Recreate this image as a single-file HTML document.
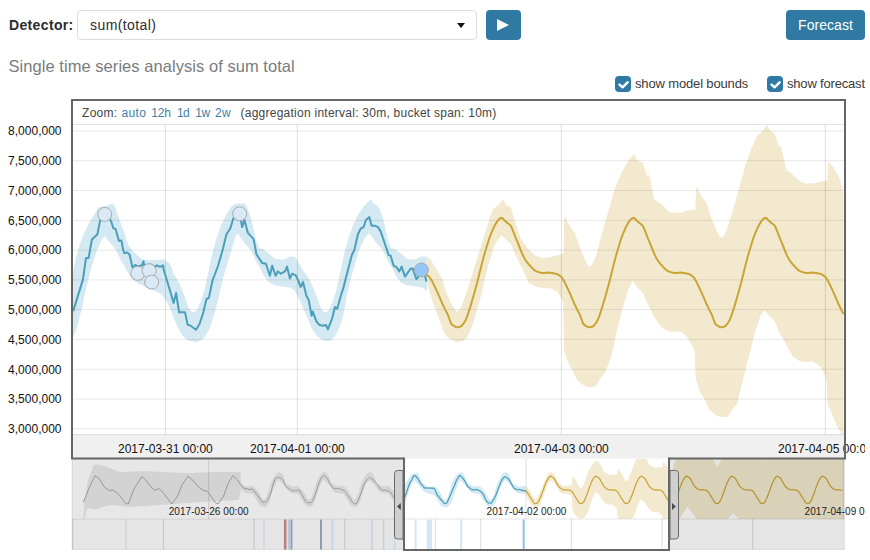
<!DOCTYPE html>
<html><head><meta charset="utf-8"><title>Single Metric Viewer</title>
<style>
html,body{margin:0;padding:0;background:#fff;}
body{width:870px;height:560px;overflow:hidden;position:relative;font-family:"Liberation Sans",sans-serif;color:#2d2d2d;}
.abs{position:absolute;white-space:nowrap;}
#lbl{left:9px;top:16px;font-size:14px;font-weight:bold;line-height:18px;letter-spacing:0.35px;color:#2d2d2d;}
#sel{left:77px;top:10px;width:398px;height:28px;border:1px solid #dcdcdc;border-radius:4px;background:#fff;}
#selt{left:90px;top:16px;font-size:14px;line-height:18px;letter-spacing:0.42px;color:#2d2d2d;}
#arrow{left:457px;top:23px;width:0;height:0;border-left:4.5px solid transparent;border-right:4.5px solid transparent;border-top:5px solid #111;}
.btn{background:#2f79a3;border-radius:4px;color:#fff;}
#play{left:486px;top:10px;width:35px;height:30px;}
#fc{left:786px;top:10px;width:79px;height:30px;font-size:14px;line-height:30px;text-align:center;letter-spacing:0.05px;}
#h{left:8.5px;top:55px;font-size:16.5px;line-height:22px;color:#787c7e;letter-spacing:0.05px;}
.cb{width:16px;height:16px;border-radius:4px;background:#2f79a3;}
.cbt{font-size:13px;line-height:16px;color:#3a3a3a;top:76px;}
svg text{font-family:"Liberation Sans",sans-serif;}
</style></head><body>
<div class="abs" id="lbl">Detector:</div>
<div class="abs" id="sel"></div>
<div class="abs" id="selt">sum(total)</div>
<div class="abs" id="arrow"></div>
<div class="abs btn" id="play"><svg width="35" height="30" style="display:block"><path d="M11,9 L11,21 L23,15 Z" fill="#fff"/></svg></div>
<div class="abs btn" id="fc">Forecast</div>
<div class="abs" id="h">Single time series analysis of sum total</div>
<div class="abs cb" style="left:615px;top:76px"><svg width="16" height="16" style="display:block"><path d="M4.6,8.6 L7.5,11.3 L12.6,6.3" fill="none" stroke="#fff" stroke-width="2.5" stroke-linecap="round" stroke-linejoin="round"/></svg></div>
<div class="abs cbt" id="t1" style="left:635px;letter-spacing:-0.15px">show model bounds</div>
<div class="abs cb" style="left:767px;top:76px"><svg width="16" height="16" style="display:block"><path d="M4.6,8.6 L7.5,11.3 L12.6,6.3" fill="none" stroke="#fff" stroke-width="2.5" stroke-linecap="round" stroke-linejoin="round"/></svg></div>
<div class="abs cbt" id="t2" style="left:787px;letter-spacing:-0.18px">show forecast</div>

<svg class="abs" style="left:0;top:0" width="865" height="560" viewBox="0 0 865 560">
<defs>
<clipPath id="cm"><rect x="73" y="125" width="771" height="309.5"/></clipPath>
<clipPath id="cc"><rect x="72.0" y="459.0" width="773.0" height="60.0"/></clipPath>
<clipPath id="cl"><rect x="72.0" y="459.0" width="332.0" height="60.0"/></clipPath>
</defs>
<text x="61.5" y="135.2" font-size="12" text-anchor="end" fill="#111">8,000,000</text>
<text x="61.5" y="165.0" font-size="12" text-anchor="end" fill="#111">7,500,000</text>
<text x="61.5" y="194.8" font-size="12" text-anchor="end" fill="#111">7,000,000</text>
<text x="61.5" y="224.6" font-size="12" text-anchor="end" fill="#111">6,500,000</text>
<text x="61.5" y="254.4" font-size="12" text-anchor="end" fill="#111">6,000,000</text>
<text x="61.5" y="284.2" font-size="12" text-anchor="end" fill="#111">5,500,000</text>
<text x="61.5" y="313.9" font-size="12" text-anchor="end" fill="#111">5,000,000</text>
<text x="61.5" y="343.7" font-size="12" text-anchor="end" fill="#111">4,500,000</text>
<text x="61.5" y="373.5" font-size="12" text-anchor="end" fill="#111">4,000,000</text>
<text x="61.5" y="403.3" font-size="12" text-anchor="end" fill="#111">3,500,000</text>
<text x="61.5" y="433.1" font-size="12" text-anchor="end" fill="#111">3,000,000</text>
<rect x="73" y="124" width="771" height="1" fill="#e3e3e3"/>
<rect x="73" y="434.5" width="771" height="24" fill="#f0f0f0"/>
<rect x="73" y="434" width="771" height="1" fill="#dedede"/>
<g clip-path="url(#cm)">
<path d="M73.0,272.4 L74.5,265.3 L76.0,258.1 L77.5,251.7 L79.0,247.3 L80.5,242.8 L82.0,238.4 L83.5,234.5 L85.0,231.5 L86.5,228.5 L88.0,225.5 L89.5,222.7 L91.0,220.1 L92.5,217.5 L94.0,214.8 L95.5,212.3 L97.0,209.8 L98.5,207.3 L100.0,206.9 L101.5,206.6 L103.0,206.4 L104.5,206.1 L106.0,205.9 L107.5,205.5 L109.0,204.8 L110.5,204.1 L112.0,203.3 L113.5,204.0 L115.0,206.9 L116.5,211.2 L118.0,215.6 L119.5,219.9 L121.0,224.1 L122.5,228.1 L124.0,232.1 L125.5,236.5 L127.0,240.9 L128.5,245.4 L130.0,247.5 L131.5,249.4 L133.0,251.3 L134.5,253.1 L136.0,254.3 L137.5,255.5 L139.0,256.8 L140.5,258.0 L142.0,259.3 L143.5,260.0 L145.0,260.0 L146.5,260.0 L148.0,260.0 L149.5,260.0 L151.0,260.0 L152.5,260.0 L154.0,259.9 L155.5,259.9 L157.0,259.8 L158.5,259.7 L160.0,259.6 L161.5,259.6 L163.0,259.6 L164.5,259.6 L166.0,260.6 L167.5,261.9 L169.0,263.1 L170.5,265.2 L172.0,268.0 L173.5,273.9 L175.0,275.7 L176.5,278.0 L178.0,281.0 L179.5,284.1 L181.0,287.4 L182.5,290.9 L184.0,294.5 L185.5,298.5 L187.0,302.9 L188.5,307.2 L190.0,309.4 L191.5,311.5 L193.0,312.3 L194.5,312.5 L196.0,311.1 L197.5,309.3 L199.0,305.6 L200.5,301.9 L202.0,297.5 L203.5,293.0 L205.0,287.5 L206.5,280.8 L208.0,274.0 L209.5,266.6 L211.0,259.2 L212.5,252.6 L214.0,247.3 L215.5,241.9 L217.0,236.6 L218.5,232.5 L220.0,228.4 L221.5,224.2 L223.0,221.0 L224.5,218.0 L226.0,215.0 L227.5,212.4 L229.0,210.0 L230.5,207.8 L232.0,205.7 L233.5,204.7 L235.0,204.2 L236.5,203.7 L238.0,203.5 L239.5,203.5 L241.0,203.5 L242.5,203.5 L244.0,203.5 L245.5,203.5 L247.0,207.7 L248.5,211.5 L250.0,215.0 L251.5,220.6 L253.0,226.5 L254.5,233.5 L256.0,240.6 L257.5,244.3 L259.0,247.8 L260.5,248.4 L262.0,248.7 L263.5,249.4 L265.0,250.6 L266.5,251.8 L268.0,253.0 L269.5,254.3 L271.0,255.6 L272.5,256.8 L274.0,258.1 L275.5,258.9 L277.0,259.1 L278.5,259.2 L280.0,259.4 L281.5,259.6 L283.0,259.6 L284.5,258.9 L286.0,258.2 L287.5,257.5 L289.0,256.8 L290.5,256.4 L292.0,256.6 L293.5,256.8 L295.0,257.0 L296.5,259.1 L298.0,261.8 L299.5,264.5 L301.0,267.1 L302.5,269.8 L304.0,272.1 L305.5,273.9 L307.0,275.7 L308.5,278.0 L310.0,281.0 L311.5,284.1 L313.0,287.4 L314.5,290.9 L316.0,294.5 L317.5,298.5 L319.0,302.9 L320.5,307.2 L322.0,309.4 L323.5,311.5 L325.0,312.3 L326.5,312.5 L328.0,311.1 L329.5,309.3 L331.0,305.6 L332.5,301.9 L334.0,297.5 L335.5,293.0 L337.0,287.5 L338.5,280.8 L340.0,274.0 L341.5,266.6 L343.0,259.2 L344.5,252.6 L346.0,247.3 L347.5,241.9 L349.0,236.6 L350.5,232.5 L352.0,228.4 L353.5,224.2 L355.0,221.0 L356.5,218.0 L358.0,215.0 L359.5,212.5 L361.0,210.4 L362.5,208.2 L364.0,206.3 L365.5,204.8 L367.0,203.3 L368.5,201.5 L370.0,199.5 L371.5,200.5 L373.0,203.1 L374.5,204.1 L376.0,204.6 L377.5,206.3 L379.0,208.3 L380.5,211.5 L382.0,215.0 L383.5,220.6 L385.0,226.5 L386.5,233.5 L388.0,240.6 L389.5,244.3 L391.0,247.8 L392.5,248.4 L394.0,248.7 L395.5,249.4 L397.0,250.6 L398.5,251.8 L400.0,253.0 L401.5,254.3 L403.0,255.6 L404.5,256.8 L406.0,258.1 L407.5,258.9 L409.0,259.1 L410.5,259.2 L412.0,259.4 L413.5,259.6 L415.0,259.6 L416.5,258.9 L418.0,258.2 L419.5,257.5 L421.0,256.8 L422.5,256.4 L424.0,256.6 L425.5,256.8 L427.0,257.0 L427.0,257.0 L427.0,291.1 L427.0,291.1 L425.5,289.6 L424.0,288.7 L422.5,287.8 L421.0,287.4 L419.5,287.1 L418.0,286.9 L416.5,286.7 L415.0,286.5 L413.5,286.3 L412.0,286.1 L410.5,285.8 L409.0,285.6 L407.5,285.4 L406.0,284.9 L404.5,284.1 L403.0,283.4 L401.5,282.6 L400.0,281.2 L398.5,279.4 L397.0,277.6 L395.5,275.3 L394.0,271.9 L392.5,268.5 L391.0,266.0 L389.5,263.8 L388.0,261.5 L386.5,258.1 L385.0,254.7 L383.5,251.8 L382.0,249.6 L380.5,247.3 L379.0,245.7 L377.5,244.2 L376.0,242.7 L374.5,240.6 L373.0,238.2 L371.5,236.1 L370.0,234.3 L368.5,233.9 L367.0,235.5 L365.5,237.1 L364.0,239.4 L362.5,242.6 L361.0,245.9 L359.5,249.2 L358.0,254.1 L356.5,258.9 L355.0,263.7 L353.5,269.0 L352.0,274.4 L350.5,279.8 L349.0,285.9 L347.5,292.7 L346.0,299.5 L344.5,308.7 L343.0,316.2 L341.5,321.0 L340.0,325.7 L338.5,329.7 L337.0,332.3 L335.5,335.0 L334.0,337.2 L332.5,338.6 L331.0,340.0 L329.5,340.8 L328.0,340.9 L326.5,341.0 L325.0,340.8 L323.5,340.2 L322.0,339.6 L320.5,338.7 L319.0,337.5 L317.5,336.3 L316.0,334.6 L314.5,332.5 L313.0,330.5 L311.5,327.6 L310.0,323.9 L308.5,320.3 L307.0,316.8 L305.5,313.5 L304.0,310.2 L302.5,306.8 L301.0,303.2 L299.5,299.6 L298.0,296.6 L296.5,293.8 L295.0,291.1 L293.5,289.6 L292.0,288.7 L290.5,287.8 L289.0,287.4 L287.5,287.1 L286.0,286.9 L284.5,286.7 L283.0,286.5 L281.5,286.3 L280.0,286.1 L278.5,285.8 L277.0,285.6 L275.5,285.4 L274.0,284.9 L272.5,284.1 L271.0,283.4 L269.5,282.6 L268.0,281.2 L266.5,279.4 L265.0,277.6 L263.5,275.3 L262.0,271.9 L260.5,268.5 L259.0,266.0 L257.5,263.8 L256.0,261.5 L254.5,258.1 L253.0,254.7 L251.5,251.8 L250.0,249.6 L248.5,247.3 L247.0,245.7 L245.5,244.2 L244.0,242.7 L242.5,240.6 L241.0,238.2 L239.5,236.1 L238.0,234.3 L236.5,234.7 L235.0,238.5 L233.5,243.2 L232.0,248.0 L230.5,253.1 L229.0,258.2 L227.5,263.3 L226.0,268.3 L224.5,273.3 L223.0,278.3 L221.5,284.5 L220.0,291.0 L218.5,297.5 L217.0,303.9 L215.5,309.4 L214.0,314.7 L212.5,319.8 L211.0,324.2 L209.5,328.6 L208.0,331.7 L206.5,334.0 L205.0,336.2 L203.5,338.5 L202.0,339.7 L200.5,340.4 L199.0,341.1 L197.5,341.7 L196.0,342.0 L194.5,342.0 L193.0,341.6 L191.5,341.3 L190.0,340.9 L188.5,340.5 L187.0,339.9 L185.5,338.4 L184.0,336.9 L182.5,335.4 L181.0,333.5 L179.5,330.5 L178.0,327.5 L176.5,324.5 L175.0,321.2 L173.5,317.2 L172.0,313.2 L170.5,309.2 L169.0,305.8 L167.5,303.2 L166.0,300.7 L164.5,298.2 L163.0,295.9 L161.5,293.9 L160.0,293.2 L158.5,292.6 L157.0,292.0 L155.5,291.3 L154.0,290.7 L152.5,290.1 L151.0,289.4 L149.5,288.8 L148.0,288.1 L146.5,287.4 L145.0,286.7 L143.5,286.0 L142.0,285.3 L140.5,284.6 L139.0,283.9 L137.5,282.9 L136.0,281.9 L134.5,280.8 L133.0,279.7 L131.5,278.7 L130.0,276.1 L128.5,273.5 L127.0,270.9 L125.5,268.2 L124.0,265.6 L122.5,263.0 L121.0,260.4 L119.5,257.6 L118.0,254.6 L116.5,251.5 L115.0,248.5 L113.5,246.3 L112.0,244.9 L110.5,243.4 L109.0,241.5 L107.5,239.4 L106.0,237.3 L104.5,236.2 L103.0,238.0 L101.5,239.9 L100.0,243.3 L98.5,246.7 L97.0,250.3 L95.5,254.8 L94.0,259.3 L92.5,263.8 L91.0,268.7 L89.5,274.7 L88.0,280.8 L86.5,286.8 L85.0,293.3 L83.5,300.2 L82.0,307.2 L80.5,313.6 L79.0,319.5 L77.5,325.5 L76.0,329.7 L74.5,333.3 L73.0,336.9Z" fill="#a9d3e3" fill-opacity="0.5"/>
<path d="M427.3,257.0 L430.3,258.7 L434.1,265.7 L438.5,272.5 L442.1,278.5 L444.6,287.0 L447.5,295.0 L451.4,303.8 L456.3,311.8 L459.5,310.2 L464.3,299.0 L470.7,279.6 L477.0,258.8 L483.6,237.9 L490.0,217.0 L493.2,209.0 L499.6,204.0 L502.9,199.3 L506.0,205.0 L510.9,207.3 L514.0,218.6 L520.5,237.9 L527.0,247.5 L535.0,255.5 L543.0,258.0 L551.0,257.0 L561.4,254.3 L563.6,252.9 L564.3,215.7 L568.6,224.3 L575.0,233.4 L578.6,244.3 L584.3,258.6 L588.6,266.6 L591.4,265.7 L595.7,257.0 L601.4,235.7 L607.0,215.7 L614.3,190.0 L621.4,172.9 L627.0,162.9 L631.4,157.0 L634.3,154.3 L637.0,160.0 L642.9,162.9 L647.0,175.7 L649.4,175.0 L654.3,200.0 L657.0,200.9 L662.9,205.7 L668.6,211.4 L674.3,212.9 L677.0,212.0 L680.0,212.9 L687.0,210.6 L692.9,210.0 L695.3,209.4 L696.3,186.6 L701.4,195.7 L707.0,204.3 L711.4,218.6 L715.7,228.6 L718.6,235.0 L721.4,237.7 L724.3,235.7 L728.6,224.3 L732.9,210.0 L738.6,190.0 L745.7,164.3 L751.4,148.6 L757.0,136.3 L762.9,130.6 L766.6,124.9 L770.0,130.6 L774.3,132.9 L778.6,145.7 L780.9,146.3 L786.6,170.6 L789.4,171.4 L794.3,176.3 L800.0,181.4 L805.7,183.7 L810.0,183.0 L812.9,183.7 L818.6,182.0 L824.3,180.9 L827.3,180.6 L828.3,160.9 L832.9,167.0 L838.6,176.3 L841.4,184.3 L843.5,194.0 L843.5,440.0 L841.3,433.6 L837.4,426.9 L831.5,413.0 L827.6,403.3 L826.6,379.7 L823.6,371.9 L819.7,366.0 L811.9,361.2 L806.0,362.0 L800.0,361.2 L792.2,356.0 L786.3,344.3 L780.4,334.5 L774.5,320.8 L768.6,314.9 L764.7,310.0 L760.8,314.9 L754.9,332.5 L749.0,356.0 L743.0,379.7 L737.2,403.3 L731.3,411.0 L728.0,416.7 L721.4,417.0 L715.6,415.0 L709.7,410.4 L705.7,401.4 L700.0,391.4 L695.7,378.6 L694.5,350.0 L691.4,344.3 L687.0,337.0 L681.4,332.0 L674.3,331.4 L671.4,332.3 L665.7,330.0 L660.0,325.7 L654.3,317.0 L648.6,305.7 L642.9,292.9 L637.0,287.0 L632.9,280.9 L628.6,288.6 L622.9,307.0 L617.0,330.0 L611.4,355.7 L605.7,371.4 L601.4,377.0 L597.0,384.3 L594.3,387.0 L587.0,387.0 L581.4,383.7 L577.0,380.0 L572.9,371.4 L567.0,360.0 L564.0,350.0 L563.2,302.9 L561.4,298.6 L557.0,291.4 L551.0,288.6 L541.4,287.7 L535.0,286.0 L528.6,282.9 L523.8,271.6 L517.3,258.8 L510.9,244.3 L506.0,239.5 L501.3,235.3 L494.8,244.3 L488.4,264.5 L482.5,289.0 L479.3,302.0 L473.9,320.5 L470.4,330.5 L466.8,338.0 L463.2,341.0 L457.9,342.2 L452.5,340.5 L447.1,337.0 L443.6,331.0 L438.2,316.5 L432.9,302.5 L427.3,284.0Z" fill="#e7d39f" fill-opacity="0.5"/>
</g>
<rect x="73" y="130.4" width="771" height="1" fill="#000" fill-opacity="0.095"/>
<rect x="73" y="160.2" width="771" height="1" fill="#000" fill-opacity="0.095"/>
<rect x="73" y="190.0" width="771" height="1" fill="#000" fill-opacity="0.095"/>
<rect x="73" y="219.8" width="771" height="1" fill="#000" fill-opacity="0.095"/>
<rect x="73" y="249.6" width="771" height="1" fill="#000" fill-opacity="0.095"/>
<rect x="73" y="279.4" width="771" height="1" fill="#000" fill-opacity="0.095"/>
<rect x="73" y="309.1" width="771" height="1" fill="#000" fill-opacity="0.095"/>
<rect x="73" y="338.9" width="771" height="1" fill="#000" fill-opacity="0.095"/>
<rect x="73" y="368.7" width="771" height="1" fill="#000" fill-opacity="0.095"/>
<rect x="73" y="398.5" width="771" height="1" fill="#000" fill-opacity="0.095"/>
<rect x="73" y="428.3" width="771" height="1" fill="#000" fill-opacity="0.095"/>
<rect x="164.9" y="125" width="1" height="309.5" fill="#000" fill-opacity="0.13"/>
<rect x="296.9" y="125" width="1" height="309.5" fill="#000" fill-opacity="0.13"/>
<rect x="560.9" y="125" width="1" height="309.5" fill="#000" fill-opacity="0.13"/>
<rect x="824.9" y="125" width="1" height="309.5" fill="#000" fill-opacity="0.13"/>
<g clip-path="url(#cm)">
<path d="M73.2,311.1 L82.9,279.6 L86.0,258.0 L88.6,258.0 L91.9,239.5 L97.3,234.6 L101.2,215.4 L104.7,214.4 L108.0,216.0 L111.0,221.0 L113.4,228.2 L115.6,228.9 L118.9,241.0 L121.4,240.4 L123.2,250.0 L124.4,253.2 L127.2,252.4 L129.6,254.8 L132.4,267.3 L135.3,264.9 L138.0,266.5 L142.0,265.3 L143.5,261.2 L144.1,265.3 L147.0,266.8 L151.0,264.5 L155.3,266.9 L156.9,265.3 L160.2,266.9 L163.0,265.3 L163.8,270.0 L165.7,276.3 L173.6,302.9 L176.1,293.0 L179.1,312.3 L185.0,312.3 L187.7,324.9 L190.3,325.5 L196.0,329.8 L199.5,324.0 L203.0,313.5 L206.5,299.0 L208.9,297.8 L212.5,280.5 L218.0,266.0 L222.9,249.0 L226.4,234.4 L230.3,228.5 L233.2,218.7 L236.0,214.5 L239.7,213.7 L240.1,215.7 L242.1,227.1 L244.4,220.0 L247.9,232.9 L253.6,239.1 L256.4,254.3 L262.1,262.9 L265.9,263.7 L269.9,275.7 L272.1,265.7 L275.6,275.7 L277.9,271.4 L280.7,273.7 L285.0,271.4 L287.0,266.6 L289.9,278.6 L292.1,273.7 L295.6,275.1 L298.4,280.9 L300.7,287.1 L303.0,282.0 L306.4,295.7 L308.7,300.0 L311.6,315.7 L312.7,311.4 L316.4,321.4 L319.3,324.9 L323.6,325.7 L325.9,324.9 L327.9,329.4 L332.1,318.6 L335.0,307.1 L337.3,308.6 L341.3,294.3 L343.6,287.1 L347.9,270.0 L352.1,254.3 L354.4,250.0 L357.9,234.3 L360.7,228.6 L363.6,227.1 L365.9,220.0 L369.3,217.1 L371.6,225.7 L375.0,225.7 L377.9,227.1 L380.7,231.4 L385.0,244.3 L388.7,255.1 L390.7,255.7 L393.6,265.7 L396.4,267.1 L399.3,271.4 L401.6,266.6 L405.0,276.6 L408.7,271.4 L410.7,268.6 L412.7,268.6 L416.4,279.1 L419.3,275.7 L421.3,270.6 L425.0,275.7 L426.4,281.4" fill="none" stroke="#4a9fba" stroke-width="2" stroke-linejoin="round"/>
<path d="M425.7,274.3 L427.2,275.3 L428.7,276.4 L430.2,277.9 L431.7,280.5 L433.2,283.4 L434.7,286.5 L436.2,289.7 L437.7,292.9 L439.2,296.4 L440.7,299.9 L442.2,303.3 L443.7,306.5 L445.2,309.6 L446.7,312.5 L448.2,315.6 L449.7,319.8 L451.2,323.8 L452.7,325.2 L454.2,326.1 L455.7,326.9 L457.2,327.2 L458.7,327.1 L460.2,326.7 L461.7,325.8 L463.2,324.0 L464.7,321.8 L466.2,319.0 L467.7,314.9 L469.2,310.3 L470.7,305.4 L472.2,300.4 L473.7,295.2 L475.2,289.8 L476.7,284.4 L478.2,278.6 L479.7,272.6 L481.2,266.5 L482.7,260.6 L484.2,255.0 L485.7,250.0 L487.2,245.0 L488.7,240.3 L490.2,235.8 L491.7,232.2 L493.2,228.9 L494.7,225.7 L496.2,222.8 L497.7,220.7 L499.2,219.1 L500.7,217.9 L502.2,218.1 L503.7,219.5 L505.2,221.0 L506.7,222.4 L508.2,223.5 L509.7,224.7 L511.2,226.6 L512.7,230.0 L514.2,233.8 L515.7,237.9 L517.2,241.3 L518.7,245.0 L520.2,248.8 L521.7,252.5 L523.2,255.9 L524.7,258.8 L526.2,261.1 L527.7,263.0 L529.2,264.8 L530.7,266.4 L532.2,268.0 L533.7,269.4 L535.2,270.7 L536.7,271.4 L538.2,272.0 L539.7,272.4 L541.2,272.8 L542.7,272.9 L544.2,272.9 L545.7,272.8 L547.2,272.7 L548.7,272.6 L550.2,272.7 L551.7,272.9 L553.2,273.2 L554.7,273.5 L556.2,273.9 L557.7,274.3 L559.2,275.3 L560.7,276.4 L562.2,277.9 L563.7,280.5 L565.2,283.4 L566.7,286.5 L568.2,289.7 L569.7,292.9 L571.2,296.4 L572.7,299.9 L574.2,303.3 L575.7,306.5 L577.2,309.6 L578.7,312.5 L580.2,315.6 L581.7,319.8 L583.2,323.8 L584.7,325.2 L586.2,326.1 L587.7,326.9 L589.2,327.2 L590.7,327.1 L592.2,326.7 L593.7,325.8 L595.2,324.0 L596.7,321.8 L598.2,319.0 L599.7,314.9 L601.2,310.3 L602.7,305.4 L604.2,300.4 L605.7,295.2 L607.2,289.8 L608.7,284.4 L610.2,278.6 L611.7,272.6 L613.2,266.5 L614.7,260.6 L616.2,255.0 L617.7,250.0 L619.2,245.0 L620.7,240.3 L622.2,235.8 L623.7,232.2 L625.2,228.8 L626.7,225.7 L628.2,222.8 L629.7,220.7 L631.2,219.1 L632.7,217.9 L634.2,218.1 L635.7,219.5 L637.2,221.0 L638.7,222.4 L640.2,223.5 L641.7,224.7 L643.2,226.6 L644.7,230.0 L646.2,233.8 L647.7,237.9 L649.2,241.3 L650.7,245.0 L652.2,248.8 L653.7,252.5 L655.2,255.9 L656.7,258.8 L658.2,261.1 L659.7,263.0 L661.2,264.8 L662.7,266.4 L664.2,268.0 L665.7,269.4 L667.2,270.7 L668.7,271.4 L670.2,272.0 L671.7,272.4 L673.2,272.8 L674.7,272.9 L676.2,272.9 L677.7,272.8 L679.2,272.7 L680.7,272.6 L682.2,272.7 L683.7,272.9 L685.2,273.2 L686.7,273.5 L688.2,273.9 L689.7,274.3 L691.2,275.3 L692.7,276.4 L694.2,277.9 L695.7,280.5 L697.2,283.4 L698.7,286.5 L700.2,289.7 L701.7,292.9 L703.2,296.4 L704.7,299.9 L706.2,303.3 L707.7,306.5 L709.2,309.6 L710.7,312.5 L712.2,315.6 L713.7,319.8 L715.2,323.8 L716.7,325.2 L718.2,326.1 L719.7,326.9 L721.2,327.2 L722.7,327.1 L724.2,326.7 L725.7,325.8 L727.2,324.0 L728.7,321.8 L730.2,319.0 L731.7,314.9 L733.2,310.3 L734.7,305.4 L736.2,300.4 L737.7,295.2 L739.2,289.8 L740.7,284.4 L742.2,278.6 L743.7,272.6 L745.2,266.5 L746.7,260.6 L748.2,255.0 L749.7,250.0 L751.2,245.0 L752.7,240.3 L754.2,235.8 L755.7,232.2 L757.2,228.8 L758.7,225.7 L760.2,222.8 L761.7,220.7 L763.2,219.1 L764.7,217.9 L766.2,218.1 L767.7,219.5 L769.2,221.0 L770.7,222.4 L772.2,223.5 L773.7,224.7 L775.2,226.6 L776.7,230.0 L778.2,233.8 L779.7,237.9 L781.2,241.3 L782.7,245.0 L784.2,248.8 L785.7,252.5 L787.2,255.9 L788.7,258.8 L790.2,261.1 L791.7,263.0 L793.2,264.8 L794.7,266.4 L796.2,268.0 L797.7,269.4 L799.2,270.7 L800.7,271.4 L802.2,272.0 L803.7,272.4 L805.2,272.8 L806.7,272.9 L808.2,272.9 L809.7,272.8 L811.2,272.7 L812.7,272.6 L814.2,272.7 L815.7,272.9 L817.2,273.2 L818.7,273.5 L820.2,273.9 L821.7,274.3 L823.2,275.3 L824.7,276.4 L826.2,277.9 L827.7,280.5 L829.2,283.4 L830.7,286.5 L832.2,289.7 L833.7,292.9 L835.2,296.4 L836.7,299.9 L838.2,303.3 L839.7,306.5 L841.2,309.6 L842.7,312.5 L843.5,314.0" fill="none" stroke="#c9a535" stroke-width="2" stroke-linejoin="round"/>
<circle cx="104.7" cy="214.4" r="7" fill="#d9e9f6" stroke="#aaa" stroke-width="1"/>
<circle cx="137.8" cy="273.3" r="7" fill="#d9e9f6" stroke="#aaa" stroke-width="1"/>
<circle cx="149.1" cy="270.7" r="7" fill="#d9e9f6" stroke="#aaa" stroke-width="1"/>
<circle cx="151.7" cy="282.1" r="7" fill="#d9e9f6" stroke="#aaa" stroke-width="1"/>
<circle cx="239.7" cy="213.8" r="7" fill="#d9e9f6" stroke="#aaa" stroke-width="1"/>
<circle cx="421.4" cy="270.0" r="7" fill="#94c8f8" stroke="#aaa" stroke-width="1"/>
</g>
<text y="116.6" font-size="12" fill="#444" letter-spacing="0.3"><tspan x="82">Zoom:</tspan><tspan fill="#3c82a8"><tspan x="121.6">auto</tspan><tspan x="151.3" letter-spacing="-0.2">12h</tspan><tspan x="177" letter-spacing="-0.6">1d</tspan><tspan x="195.3" letter-spacing="-0.4">1w</tspan><tspan x="215">2w</tspan></tspan></text>
<text x="240.5" y="116.6" font-size="12" fill="#444" letter-spacing="0.25" id="agg">(aggregation interval: 30m, bucket span: 10m)</text>
<text x="165.4" y="453.3" font-size="12" text-anchor="middle" fill="#111">2017-03-31 00:00</text>
<text x="297.4" y="453.3" font-size="12" text-anchor="middle" fill="#111">2017-04-01 00:00</text>
<text x="561.4" y="453.3" font-size="12" text-anchor="middle" fill="#111">2017-04-03 00:00</text>
<text x="825.4" y="453.3" font-size="12" text-anchor="middle" fill="#111">2017-04-05 00:00</text>
<rect x="72.0" y="459.0" width="773.0" height="90.5" fill="#fff"/>
<g clip-path="url(#cc)">
<path d="M83.4,519.0 L84.5,500.0 L88.0,480.0 L93.7,465.0 L100.0,464.5 L110.0,468.0 L120.0,472.0 L145.0,471.0 L170.0,472.5 L190.0,473.0 L215.0,472.0 L240.5,472.0 L241.0,483.7 L242.0,483.9 L243.0,484.4 L244.0,485.0 L245.0,485.6 L246.0,486.2 L247.0,486.5 L248.0,486.6 L249.0,486.6 L250.0,486.3 L251.0,485.9 L252.0,485.8 L253.0,485.9 L254.0,486.8 L255.0,488.1 L256.0,489.4 L257.0,490.3 L258.0,491.4 L259.0,492.9 L260.0,494.6 L261.0,496.5 L262.0,498.5 L263.0,499.6 L264.0,499.8 L265.0,499.1 L266.0,497.3 L267.0,495.2 L268.0,492.4 L269.0,489.0 L270.0,485.4 L271.0,482.8 L272.0,480.4 L273.0,478.4 L274.0,476.7 L275.0,475.2 L276.0,474.2 L277.0,473.2 L278.0,472.5 L279.0,471.6 L280.0,472.5 L281.0,472.9 L282.0,473.8 L283.0,475.3 L284.0,478.0 L285.0,481.4 L286.0,483.4 L287.0,483.9 L288.0,484.2 L289.0,484.8 L290.0,485.4 L291.0,486.0 L292.0,486.4 L293.0,486.5 L294.0,486.6 L295.0,486.4 L296.0,486.1 L297.0,485.8 L298.0,485.9 L299.0,486.4 L300.0,487.7 L301.0,489.0 L302.0,490.1 L303.0,491.0 L304.0,492.4 L305.0,494.0 L306.0,495.8 L307.0,497.9 L308.0,499.2 L309.0,499.8 L310.0,499.4 L311.0,497.9 L312.0,495.9 L313.0,493.4 L314.0,490.2 L315.0,486.6 L316.0,483.7 L317.0,481.0 L318.0,479.0 L319.0,477.2 L320.0,475.7 L321.0,474.5 L322.0,473.5 L323.0,472.7 L324.0,471.9 L325.0,472.1 L326.0,472.8 L327.0,473.4 L328.0,474.8 L329.0,477.1 L330.0,480.2 L331.0,482.8 L332.0,483.8 L333.0,484.0 L334.0,484.6 L335.0,485.2 L336.0,485.8 L337.0,486.4 L338.0,486.5 L339.0,486.6 L340.0,486.5 L341.0,486.2 L342.0,485.8 L343.0,485.9 L344.0,486.0 L345.0,487.3 L346.0,488.6 L347.0,489.8 L348.0,490.6 L349.0,491.9 L350.0,493.5 L351.0,495.2 L352.0,497.2 L353.0,498.9 L354.0,499.7 L355.0,499.6 L356.0,498.5 L357.0,496.7 L358.0,494.4 L359.0,491.2 L360.0,487.8 L361.0,484.5 L362.0,481.9 L363.0,479.7 L364.0,477.7 L365.0,476.2 L366.0,474.9 L367.0,473.8 L368.0,473.0 L369.0,472.2 L370.0,471.7 L371.0,472.7 L372.0,473.1 L373.0,474.2 L374.0,476.1 L375.0,479.1 L376.0,482.3 L377.0,483.7 L378.0,483.9 L379.0,484.4 L380.0,485.0 L381.0,485.6 L382.0,486.2 L383.0,486.5 L384.0,486.6 L385.0,486.6 L386.0,486.3 L387.0,485.9 L388.0,485.8 L389.0,485.9 L390.0,486.9 L391.0,488.2 L392.0,489.4 L393.0,490.4 L394.0,491.5 L395.0,492.9 L396.0,494.6 L397.0,496.5 L398.0,498.5 L399.0,499.6 L400.0,495.4 L401.0,493.9 L402.0,492.3 L403.0,490.8 L404.0,488.5 L405.0,485.0 L406.0,482.8 L407.0,480.7 L408.0,479.2 L409.0,477.8 L410.0,476.5 L411.0,475.2 L412.0,474.0 L413.0,473.4 L414.0,473.3 L415.0,473.2 L416.0,472.9 L417.0,472.6 L418.0,473.4 L419.0,475.5 L420.0,477.5 L421.0,479.5 L422.0,481.6 L423.0,483.4 L424.0,484.3 L425.0,485.1 L426.0,485.7 L427.0,486.3 L428.0,486.7 L429.0,486.7 L430.0,486.7 L431.0,486.7 L432.0,486.7 L433.0,486.6 L434.0,486.6 L435.0,486.6 L436.0,487.1 L437.0,487.9 L438.0,490.1 L439.0,491.0 L440.0,492.4 L441.0,494.0 L442.0,495.8 L443.0,497.9 L444.0,499.2 L445.0,499.8 L446.0,499.4 L447.0,497.9 L448.0,495.9 L449.0,493.4 L450.0,490.1 L451.0,486.5 L452.0,483.6 L453.0,481.0 L454.0,479.0 L455.0,477.2 L456.0,475.7 L457.0,474.5 L458.0,473.4 L459.0,472.8 L460.0,472.6 L461.0,472.6 L462.0,472.6 L463.0,472.7 L464.0,474.8 L465.0,477.1 L466.0,480.3 L467.0,482.8 L468.0,483.8 L469.0,484.0 L470.0,484.6 L471.0,485.2 L472.0,485.8 L473.0,486.4 L474.0,486.5 L475.0,486.6 L476.0,486.5 L477.0,486.2 L478.0,485.8 L479.0,485.9 L480.0,486.0 L481.0,487.3 L482.0,488.6 L483.0,489.8 L484.0,490.7 L485.0,492.0 L486.0,493.5 L487.0,495.2 L488.0,497.2 L489.0,498.9 L490.0,499.7 L491.0,499.6 L492.0,498.5 L493.0,496.6 L494.0,494.4 L495.0,491.2 L496.0,487.7 L497.0,484.5 L498.0,481.9 L499.0,479.7 L500.0,477.7 L501.0,476.2 L502.0,474.8 L503.0,473.8 L504.0,473.0 L505.0,472.2 L506.0,471.7 L507.0,472.7 L508.0,473.1 L509.0,474.2 L510.0,476.2 L511.0,479.1 L512.0,482.3 L513.0,483.7 L514.0,483.9 L515.0,484.4 L516.0,485.0 L517.0,485.6 L518.0,486.3 L519.0,486.5 L520.0,486.6 L521.0,486.6 L522.0,486.3 L523.0,485.9 L524.0,485.8 L525.0,485.9 L525.0,494.2 L524.0,493.8 L523.0,493.5 L522.0,493.4 L521.0,493.3 L520.0,493.2 L519.0,493.1 L518.0,492.9 L517.0,492.6 L516.0,492.1 L515.0,491.2 L514.0,489.9 L513.0,488.4 L512.0,487.3 L511.0,485.8 L510.0,484.4 L509.0,483.4 L508.0,482.6 L507.0,481.7 L506.0,480.6 L505.0,480.3 L504.0,481.0 L503.0,482.4 L502.0,484.0 L501.0,486.4 L500.0,488.8 L499.0,491.4 L498.0,494.5 L497.0,498.2 L496.0,501.5 L495.0,503.8 L494.0,505.1 L493.0,506.1 L492.0,506.8 L491.0,506.9 L490.0,506.8 L489.0,506.5 L488.0,506.0 L487.0,505.3 L486.0,504.3 L485.0,502.6 L484.0,500.9 L483.0,499.3 L482.0,497.6 L481.0,496.0 L480.0,494.7 L479.0,493.9 L478.0,493.6 L477.0,493.5 L476.0,493.3 L475.0,493.2 L474.0,493.1 L473.0,493.0 L472.0,492.7 L471.0,492.3 L470.0,491.5 L469.0,490.5 L468.0,488.8 L467.0,487.7 L466.0,486.3 L465.0,484.8 L464.0,483.7 L463.0,482.9 L462.0,482.1 L461.0,480.9 L460.0,480.0 L459.0,481.9 L458.0,484.3 L457.0,486.7 L456.0,489.2 L455.0,491.6 L454.0,494.8 L453.0,497.9 L452.0,500.5 L451.0,502.8 L450.0,504.6 L449.0,505.7 L448.0,506.6 L447.0,506.9 L446.0,507.2 L445.0,507.1 L444.0,506.9 L443.0,506.7 L442.0,506.1 L441.0,505.4 L440.0,504.0 L439.0,502.6 L438.0,500.7 L437.0,498.8 L436.0,497.4 L435.0,496.2 L434.0,495.2 L433.0,494.9 L432.0,494.5 L431.0,494.2 L430.0,493.9 L429.0,493.6 L428.0,493.2 L427.0,492.9 L426.0,492.5 L425.0,492.0 L424.0,491.5 L423.0,490.5 L422.0,489.2 L421.0,487.9 L420.0,486.7 L419.0,485.2 L418.0,483.8 L417.0,482.9 L416.0,482.1 L415.0,481.1 L414.0,481.2 L413.0,482.3 L412.0,484.0 L411.0,486.2 L410.0,488.3 L409.0,491.2 L408.0,494.1 L407.0,497.5 L406.0,500.6 L405.0,503.5 L404.0,505.2 L403.0,506.2 L402.0,506.7 L401.0,507.1 L400.0,507.5 L399.0,506.7 L398.0,506.4 L397.0,505.8 L396.0,504.9 L395.0,503.8 L394.0,502.0 L393.0,500.4 L392.0,498.8 L391.0,497.0 L390.0,495.5 L389.0,494.2 L388.0,493.8 L387.0,493.5 L386.0,493.4 L385.0,493.3 L384.0,493.2 L383.0,493.1 L382.0,492.9 L381.0,492.6 L380.0,492.1 L379.0,491.2 L378.0,489.9 L377.0,488.4 L376.0,487.3 L375.0,485.8 L374.0,484.4 L373.0,483.3 L372.0,482.6 L371.0,481.7 L370.0,480.6 L369.0,480.3 L368.0,481.1 L367.0,482.4 L366.0,484.1 L365.0,486.4 L364.0,488.8 L363.0,491.4 L362.0,494.5 L361.0,498.3 L360.0,501.5 L359.0,503.8 L358.0,505.1 L357.0,506.1 L356.0,506.8 L355.0,506.9 L354.0,506.8 L353.0,506.5 L352.0,506.0 L351.0,505.2 L350.0,504.2 L349.0,502.6 L348.0,500.9 L347.0,499.3 L346.0,497.6 L345.0,496.0 L344.0,494.6 L343.0,493.9 L342.0,493.6 L341.0,493.5 L340.0,493.3 L339.0,493.2 L338.0,493.1 L337.0,493.0 L336.0,492.7 L335.0,492.3 L334.0,491.5 L333.0,490.4 L332.0,488.8 L331.0,487.7 L330.0,486.3 L329.0,484.7 L328.0,483.7 L327.0,482.9 L326.0,482.1 L325.0,480.9 L324.0,480.0 L323.0,480.8 L322.0,481.9 L321.0,483.5 L320.0,485.6 L319.0,488.0 L318.0,490.6 L317.0,493.4 L316.0,496.8 L315.0,500.8 L314.0,503.1 L313.0,504.7 L312.0,505.9 L311.0,506.6 L310.0,506.9 L309.0,506.9 L308.0,506.6 L307.0,506.2 L306.0,505.6 L305.0,504.6 L304.0,503.2 L303.0,501.4 L302.0,499.8 L301.0,498.2 L300.0,496.5 L299.0,495.1 L298.0,494.1 L297.0,493.6 L296.0,493.5 L295.0,493.4 L294.0,493.3 L293.0,493.2 L292.0,493.1 L291.0,492.8 L290.0,492.4 L289.0,491.8 L288.0,490.9 L287.0,489.3 L286.0,488.0 L285.0,486.8 L284.0,485.2 L283.0,484.0 L282.0,483.1 L281.0,482.4 L280.0,481.3 L279.0,480.3 L278.0,480.5 L277.0,481.4 L276.0,483.0 L275.0,484.9 L274.0,487.2 L273.0,489.7 L272.0,492.4 L271.0,495.7 L270.0,499.8 L269.0,502.3 L268.0,504.3 L267.0,505.6 L266.0,506.4 L265.0,506.9 L264.0,506.9 L263.0,506.7 L262.0,506.4 L261.0,505.8 L260.0,504.9 L259.0,503.8 L258.0,502.0 L257.0,500.4 L256.0,498.8 L255.0,497.0 L254.0,495.5 L253.0,494.2 L252.0,493.8 L251.0,493.5 L250.0,493.4 L249.0,493.3 L248.0,493.2 L247.0,493.1 L246.0,492.9 L245.0,492.6 L244.0,492.1 L243.0,491.2 L242.0,489.9 L241.0,488.4 L239.5,497.0 L238.5,500.0 L200.0,502.0 L160.0,505.0 L130.0,507.0 L110.0,505.0 L95.0,509.5 L88.0,508.0 L86.0,512.0 L84.5,519.0Z" fill="#a9d3e3" fill-opacity="0.5"/>
<path d="M525.3,486.0 L526.3,486.4 L527.6,488.1 L529.1,489.8 L530.4,491.3 L531.2,493.4 L532.2,495.4 L533.6,497.6 L535.2,499.6 L536.3,499.2 L538.0,496.4 L540.2,491.6 L542.4,486.4 L544.6,481.2 L546.8,476.0 L547.9,474.0 L550.1,472.7 L551.3,471.6 L552.3,473.0 L554.0,473.6 L555.1,476.4 L557.3,481.2 L559.5,483.6 L562.3,485.6 L565.0,486.2 L567.8,486.0 L571.3,485.3 L572.1,484.9 L572.3,475.6 L573.8,477.8 L576.0,480.1 L577.2,482.8 L579.2,486.4 L580.7,488.4 L581.6,488.1 L583.1,486.0 L585.1,480.6 L587.0,475.6 L589.5,469.2 L591.9,465.0 L593.9,462.5 L595.4,461.0 L596.4,460.3 L597.3,461.7 L599.3,462.5 L600.7,465.7 L601.6,465.5 L603.2,471.7 L604.2,472.0 L606.2,473.2 L608.2,474.6 L610.1,475.0 L611.0,474.7 L612.1,475.0 L614.5,474.4 L616.5,474.2 L617.3,474.1 L617.7,468.4 L619.4,470.7 L621.3,472.8 L622.9,476.4 L624.3,478.9 L625.3,480.5 L626.3,481.1 L627.3,480.6 L628.8,477.8 L630.2,474.2 L632.2,469.2 L634.6,462.8 L636.6,459.0 L638.5,459.0 L640.5,459.0 L641.8,459.0 L643.0,459.0 L644.5,459.0 L645.9,459.0 L646.7,459.0 L648.7,464.4 L649.6,464.6 L651.3,465.8 L653.3,467.1 L655.2,467.7 L656.7,467.5 L657.7,467.7 L659.7,467.2 L661.6,467.0 L662.7,466.9 L663.0,462.0 L664.6,463.5 L666.5,465.8 L667.5,467.8 L668.2,470.2 L669.5,471.0 L671.6,471.5 L673.0,468.0 L676.0,459.0 L713.0,459.0 L717.5,467.3 L721.5,459.0 L761.5,459.0 L763.0,461.0 L764.5,459.0 L844.0,459.0 L844.0,519.0 L780.5,519.0 L779.0,518.3 L777.5,519.0 L738.9,519.0 L733.2,513.2 L727.6,519.0 L697.0,519.0 L687.4,506.7 L679.3,519.0 L669.0,519.0 L668.2,519.0 L667.5,519.0 L666.1,519.0 L664.1,519.0 L662.8,519.0 L662.4,516.6 L661.4,514.6 L660.0,513.2 L657.4,512.0 L655.3,512.2 L653.3,512.0 L650.6,510.7 L648.6,507.7 L646.5,505.3 L644.5,501.9 L642.5,500.4 L641.2,499.2 L639.8,500.4 L637.8,504.8 L635.8,510.7 L633.7,516.6 L631.7,519.0 L629.7,519.0 L628.6,519.0 L626.3,519.0 L624.3,519.0 L622.3,519.0 L620.9,519.0 L618.9,519.0 L617.5,516.3 L617.0,509.2 L616.0,507.7 L614.5,505.9 L612.5,504.7 L610.1,504.5 L609.1,504.8 L607.2,504.2 L605.2,503.1 L603.2,500.9 L601.3,498.1 L599.3,494.9 L597.3,493.4 L595.9,491.9 L594.4,493.8 L592.5,498.4 L590.4,504.2 L588.5,510.6 L586.6,514.5 L585.1,515.9 L583.6,517.7 L582.6,518.4 L580.1,518.4 L578.2,517.6 L576.7,516.7 L575.3,514.5 L573.3,511.7 L572.2,509.2 L572.0,497.4 L571.3,496.3 L569.8,494.5 L567.8,493.8 L564.5,493.6 L562.3,493.2 L560.1,492.4 L558.4,489.6 L556.2,486.4 L554.0,482.8 L552.3,481.6 L550.7,480.5 L548.5,482.8 L546.3,487.8 L544.2,493.9 L543.1,497.2 L541.3,501.8 L540.1,504.3 L538.9,506.2 L537.6,506.9 L535.8,507.2 L533.9,506.8 L532.1,505.9 L530.9,504.4 L529.0,500.8 L527.2,497.3 L525.3,492.7Z" fill="#e7d39f" fill-opacity="0.5"/>
<path d="M83.4,502.4 L89.1,488.0 L94.9,475.7 L99.5,478.7 L104.1,486.8 L109.8,491.0 L112.1,489.5 L117.9,493.7 L125.9,503.3 L128.2,504.0 L134.0,489.0 L142.0,476.4 L145.5,479.9 L151.2,487.2 L154.7,490.2 L159.3,488.6 L163.9,493.7 L171.9,504.0 L177.6,496.0 L182.2,484.5 L188.0,476.4 L192.6,479.9 L198.3,486.8 L202.9,490.2 L207.5,491.4 L215.6,502.9 L217.9,504.0 L223.6,496.0 L228.2,483.3 L232.8,475.7 L237.4,479.9 L243.2,487.9 L248.9,489.5 L252.4,489.1 L258.1,496.0 L262.7,502.4 L264.0,501.7 L264.7,501.9 L265.4,502.0 L266.1,502.0 L266.8,501.4 L267.5,500.4 L268.2,499.1 L268.8,497.9 L269.5,496.6 L270.2,494.8 L270.9,492.7 L271.6,490.2 L272.3,487.5 L273.0,485.1 L273.6,482.9 L274.3,481.0 L275.0,479.4 L275.7,478.3 L276.4,477.7 L277.1,477.5 L277.8,477.4 L278.5,477.4 L279.1,477.5 L279.8,477.7 L280.5,478.1 L281.2,478.6 L281.9,478.9 L282.6,479.6 L283.3,480.7 L284.0,482.2 L284.6,483.9 L285.3,485.3 L286.0,486.5 L286.7,487.4 L287.4,487.8 L288.1,488.1 L288.8,488.5 L289.4,488.8 L290.1,489.4 L290.8,489.8 L291.5,490.4 L292.2,490.8 L292.9,490.9 L293.6,490.7 L294.3,490.5 L294.9,490.6 L295.6,490.9 L296.3,490.9 L297.0,490.6 L297.7,490.2 L298.4,489.8 L299.1,490.0 L299.7,490.8 L300.4,492.1 L301.1,493.5 L301.8,494.6 L302.5,495.7 L303.2,496.9 L303.9,498.5 L304.6,499.9 L305.2,501.0 L305.9,501.8 L306.6,502.5 L307.3,502.8 L308.0,502.9 L308.7,502.6 L309.4,502.5 L310.1,502.6 L310.7,502.7 L311.4,502.4 L312.1,501.5 L312.8,500.4 L313.5,499.0 L314.2,497.4 L314.9,495.8 L315.5,494.1 L316.2,492.1 L316.9,489.8 L317.6,487.4 L318.3,485.0 L319.0,483.0 L319.7,481.2 L320.4,479.8 L321.0,478.6 L321.7,477.6 L322.4,476.7 L323.1,476.0 L323.8,475.6 L324.5,475.9 L325.2,476.4 L325.8,477.1 L326.5,477.6 L327.2,478.2 L327.9,479.3 L328.6,480.7 L329.3,482.2 L330.0,483.6 L330.7,484.9 L331.3,486.1 L332.0,487.1 L332.7,487.7 L333.4,488.2 L334.1,488.5 L334.8,488.5 L335.5,488.6 L336.1,488.6 L336.8,488.6 L337.5,488.5 L338.2,488.5 L338.9,488.7 L339.6,488.9 L340.3,489.1 L341.0,489.2 L341.6,489.6 L342.3,490.0 L343.0,490.3 L343.7,490.5 L344.4,490.8 L345.1,491.4 L345.8,492.3 L346.5,493.5 L347.1,494.5 L347.8,495.5 L348.5,496.4 L349.2,497.2 L349.9,498.2 L350.6,499.1 L351.3,500.3 L351.9,501.5 L352.6,502.6 L353.3,503.3 L354.0,503.6 L354.7,503.8 L355.4,504.0 L356.1,503.8 L356.8,503.0 L357.4,501.9 L358.1,500.4 L358.8,498.7 L359.5,496.9 L360.2,495.2 L360.9,493.3 L361.6,491.4 L362.2,489.4 L362.9,487.4 L363.6,485.5 L364.3,484.0 L365.0,482.8 L365.7,481.7 L366.4,480.8 L367.1,479.9 L367.7,479.2 L368.4,478.3 L369.1,477.6 L369.8,477.4 L370.5,477.8 L371.2,478.5 L371.9,479.1 L372.6,479.3 L373.2,479.6 L373.9,480.1 L374.6,480.9 L375.3,481.9 L376.0,482.9 L376.7,483.7 L377.4,484.5 L378.0,485.4 L378.7,486.5 L379.4,487.7 L380.1,488.9 L380.8,489.6 L381.5,489.9 L382.2,490.1 L382.9,490.1 L383.5,490.3 L384.2,490.1 L384.9,490.1 L385.6,490.2 L386.3,490.6 L387.0,490.9 L387.7,491.0 L388.3,491.1 L389.0,491.3 L389.7,491.7 L390.4,492.1 L391.1,493.0 L391.8,494.2 L392.5,495.6 L393.2,496.5 L393.8,497.3 L394.5,497.9 L395.2,498.7 L395.9,499.7 L396.6,500.6 L397.3,501.4 L398.0,501.9 L398.6,502.3 L399.3,502.6 L400.0,502.7 L400.7,502.5 L401.4,501.9 L402.1,501.3 L402.8,500.6 L403.5,499.5 L404.1,498.2 L404.8,496.8 L405.5,495.1 L406.2,493.4 L406.9,491.3 L407.6,489.0 L408.3,487.1 L409.0,485.2 L409.6,483.7 L410.3,482.1 L411.0,481.0 L411.7,480.0 L412.4,478.5 L413.1,477.1 L413.8,475.9 L414.4,475.5 L415.1,475.7 L415.8,476.2 L416.5,477.0 L417.2,477.9 L417.9,478.9 L418.6,480.1 L419.3,481.0 L419.9,482.3 L420.6,483.4 L421.3,484.2 L422.0,484.9 L422.7,485.6 L423.4,486.6 L424.1,487.5 L424.7,488.1 L425.4,488.2 L426.1,488.1 L426.8,488.0 L427.5,487.9 L428.2,488.0 L428.9,488.0 L429.6,488.1 L430.2,488.1 L430.9,488.1 L431.6,488.2 L432.3,488.2 L433.0,488.3 L433.7,488.3 L434.4,488.9 L435.1,489.9 L435.7,491.5 L436.4,493.2 L437.1,494.8 L437.8,495.8 L438.5,496.3 L439.2,497.3 L439.9,498.1 L440.5,499.3 L441.2,499.8 L441.9,500.5 L442.6,501.4 L443.3,502.4 L444.0,503.2 L444.7,503.5 L445.4,503.7 L446.0,503.5 L446.7,502.9 L447.4,501.7 L448.1,500.2 L448.8,498.5 L449.5,497.1 L450.2,495.6 L450.8,494.0 L451.5,492.3 L452.2,490.6 L452.9,489.1 L453.6,487.6 L454.3,486.0 L455.0,484.2 L455.7,482.3 L456.3,480.8 L457.0,479.5 L457.7,478.3 L458.4,477.2 L459.1,476.2 L459.8,475.5 L460.5,475.8 L461.1,476.4 L461.8,477.0 L462.5,478.0 L463.2,478.7 L463.9,479.7 L464.6,480.6 L465.3,481.6 L466.0,483.1 L466.6,484.6 L467.3,486.0 L468.0,486.8 L468.7,487.2 L469.4,487.8 L470.1,488.5 L470.8,489.0 L471.5,489.3 L472.1,489.6 L472.8,489.5 L473.5,489.9 L474.2,490.0 L474.9,489.9 L475.6,489.8 L476.3,489.4 L476.9,489.6 L477.6,489.9 L478.3,490.2 L479.0,490.5 L479.7,490.6 L480.4,491.2 L481.1,492.0 L481.8,492.5 L482.4,493.2 L483.1,494.1 L483.8,495.4 L484.5,497.2 L485.2,498.6 L485.9,499.9 L486.6,501.0 L487.2,501.8 L487.9,502.5 L488.6,502.9 L489.3,503.0 L490.0,503.2 L490.7,503.3 L491.4,503.0 L492.1,502.2 L492.7,500.8 L493.4,499.6 L494.1,498.5 L494.8,497.4 L495.5,496.0 L496.2,494.3 L496.9,492.5 L497.6,490.6 L498.2,488.7 L498.9,486.9 L499.6,485.3 L500.3,483.6 L501.0,481.9 L501.7,480.4 L502.4,479.3 L503.0,478.4 L503.7,477.7 L504.4,476.9 L505.1,476.8 L505.8,477.2 L506.5,477.7 L507.2,478.2 L507.9,478.4 L508.5,478.9 L509.2,479.8 L509.9,481.0 L510.6,482.4 L511.3,483.8 L512.0,484.9 L512.7,486.1 L513.3,487.1 L514.0,488.0 L514.7,488.7 L515.4,488.8 L516.1,489.1 L516.8,489.5 L517.5,489.8 L518.2,490.0 L518.8,489.7 L519.5,489.3 L520.2,489.5 L520.9,490.1 L521.6,490.6 L522.3,490.6 L523.0,490.2 L523.7,490.2 L524.3,490.7 L525.0,491.4" fill="none" stroke="#4a9fba" stroke-width="1.25" stroke-linejoin="round"/>
<path d="M524.7,490.3 L525.5,490.6 L526.2,491.1 L527.0,492.1 L527.7,493.2 L528.5,494.3 L529.2,495.6 L530.0,496.8 L530.7,498.0 L531.5,499.2 L532.2,500.2 L533.0,501.7 L533.7,502.8 L534.5,503.2 L535.2,503.5 L536.0,503.5 L536.7,503.3 L537.5,502.8 L538.2,502.0 L539.0,500.8 L539.7,499.1 L540.5,497.3 L541.2,495.5 L542.0,493.5 L542.7,491.4 L543.5,489.2 L544.2,487.1 L545.0,485.1 L545.7,483.3 L546.5,481.5 L547.2,480.1 L548.0,478.8 L548.7,477.7 L549.5,476.9 L550.2,476.3 L551.0,476.2 L551.7,476.8 L552.5,477.3 L553.2,477.7 L554.0,478.2 L554.7,479.4 L555.5,480.9 L556.2,482.2 L557.0,483.5 L557.7,484.9 L558.5,486.1 L559.2,487.0 L560.0,487.7 L560.7,488.3 L561.5,488.8 L562.2,489.3 L563.0,489.6 L563.7,489.8 L564.5,489.9 L565.2,489.9 L566.0,489.9 L566.7,489.9 L567.5,489.9 L568.2,490.0 L569.0,490.1 L569.7,490.2 L570.5,490.5 L571.2,490.9 L572.0,491.6 L572.7,492.7 L573.5,493.8 L574.2,495.0 L575.0,496.3 L575.7,497.5 L576.5,498.7 L577.2,499.7 L578.0,501.0 L578.7,502.5 L579.5,503.0 L580.2,503.4 L581.0,503.5 L581.7,503.4 L582.5,503.1 L583.2,502.4 L584.0,501.4 L584.7,499.9 L585.5,498.1 L586.2,496.3 L587.0,494.4 L587.7,492.4 L588.5,490.2 L589.2,488.0 L590.0,485.9 L590.7,484.0 L591.5,482.3 L592.2,480.6 L593.0,479.4 L593.7,478.2 L594.5,477.2 L595.2,476.5 L596.0,476.1 L596.7,476.5 L597.5,477.1 L598.2,477.5 L599.0,477.9 L599.7,478.9 L600.5,480.2 L601.2,481.6 L602.0,482.9 L602.7,484.3 L603.5,485.6 L604.2,486.6 L605.0,487.3 L605.7,488.0 L606.5,488.6 L607.2,489.1 L608.0,489.5 L608.7,489.7 L609.5,489.9 L610.2,489.9 L611.0,489.9 L611.7,489.9 L612.5,489.9 L613.2,489.9 L614.0,490.0 L614.7,490.1 L615.5,490.3 L616.2,490.7 L617.0,491.2 L617.7,492.2 L618.5,493.3 L619.2,494.5 L620.0,495.7 L620.7,497.0 L621.5,498.2 L622.2,499.3 L623.0,500.3 L623.7,501.8 L624.5,502.9 L625.2,503.2 L626.0,503.5 L626.7,503.4 L627.5,503.3 L628.2,502.7 L629.0,501.9 L629.7,500.6 L630.5,498.9 L631.2,497.1 L632.0,495.2 L632.7,493.2 L633.5,491.2 L634.2,489.0 L635.0,486.8 L635.7,484.8 L636.5,483.0 L637.2,481.3 L638.0,479.9 L638.7,478.7 L639.5,477.6 L640.2,476.8 L641.0,476.3 L641.7,476.3 L642.5,476.8 L643.2,477.3 L644.0,477.7 L644.7,478.3 L645.5,479.6 L646.2,481.1 L647.0,482.3 L647.7,483.7 L648.5,485.0 L649.2,486.2 L650.0,487.0 L650.7,487.8 L651.5,488.3 L652.2,488.9 L653.0,489.4 L653.7,489.6 L654.5,489.8 L655.2,489.9 L656.0,489.9 L656.7,489.9 L657.5,489.9 L658.2,489.9 L659.0,490.0 L659.7,490.1 L660.5,490.2 L661.2,490.5 L662.0,490.9 L662.7,491.7 L663.5,492.8 L664.2,494.0 L665.0,495.2 L665.7,496.4 L666.5,497.7 L667.2,498.8 L668.0,499.9 L668.7,501.2 L669.5,502.6 L670.2,503.1 L671.0,503.4 L671.7,503.5 L672.5,503.4 L673.2,503.0 L674.0,502.3 L674.7,501.2 L675.5,499.7 L676.2,497.9 L677.0,496.1 L677.7,494.1 L678.5,492.1 L679.2,489.9 L680.0,487.7 L680.7,485.7 L681.5,483.8 L682.2,482.1 L683.0,480.5 L683.7,479.2 L684.5,478.0 L685.2,477.1 L686.0,476.5 L686.7,476.1 L687.5,476.6 L688.2,477.1 L689.0,477.6 L689.7,478.0 L690.5,479.0 L691.2,480.4 L692.0,481.8 L692.7,483.1 L693.5,484.5 L694.2,485.7 L695.0,486.7 L695.7,487.4 L696.5,488.1 L697.2,488.6 L698.0,489.2 L698.7,489.5 L699.5,489.7 L700.2,489.9 L701.0,489.9 L701.7,489.9 L702.5,489.9 L703.2,489.9 L704.0,489.9 L704.7,490.0 L705.5,490.2 L706.2,490.4 L707.0,490.7 L707.7,491.3 L708.5,492.3 L709.2,493.5 L710.0,494.6 L710.7,495.9 L711.5,497.1 L712.2,498.3 L713.0,499.4 L713.7,500.5 L714.5,502.0 L715.2,502.9 L716.0,503.3 L716.7,503.5 L717.5,503.4 L718.2,503.3 L719.0,502.6 L719.7,501.8 L720.5,500.4 L721.2,498.7 L722.0,496.9 L722.7,495.0 L723.5,493.0 L724.2,490.9 L725.0,488.7 L725.7,486.5 L726.5,484.6 L727.2,482.8 L728.0,481.1 L728.7,479.8 L729.5,478.5 L730.2,477.5 L731.0,476.7 L731.7,476.2 L732.5,476.3 L733.2,476.9 L734.0,477.4 L734.7,477.8 L735.5,478.5 L736.2,479.8 L737.0,481.2 L737.7,482.5 L738.5,483.9 L739.2,485.2 L740.0,486.3 L740.7,487.1 L741.5,487.8 L742.2,488.4 L743.0,489.0 L743.7,489.4 L744.5,489.6 L745.2,489.8 L746.0,489.9 L746.7,489.9 L747.5,489.9 L748.2,489.9 L749.0,489.9 L749.7,490.0 L750.5,490.1 L751.2,490.2 L752.0,490.6 L752.7,491.0 L753.5,491.9 L754.2,493.0 L755.0,494.1 L755.7,495.3 L756.5,496.6 L757.2,497.8 L758.0,498.9 L758.7,500.0 L759.5,501.3 L760.2,502.7 L761.0,503.1 L761.7,503.4 L762.5,503.5 L763.2,503.4 L764.0,502.9 L764.7,502.2 L765.5,501.1 L766.2,499.5 L767.0,497.7 L767.7,495.8 L768.5,493.9 L769.2,491.9 L770.0,489.7 L770.7,487.5 L771.5,485.4 L772.2,483.6 L773.0,481.9 L773.7,480.3 L774.5,479.1 L775.2,477.9 L776.0,477.0 L776.7,476.4 L777.5,476.2 L778.2,476.6 L779.0,477.2 L779.7,477.6 L780.5,478.1 L781.2,479.2 L782.0,480.6 L782.7,481.9 L783.5,483.3 L784.2,484.6 L785.0,485.9 L785.7,486.8 L786.5,487.5 L787.2,488.1 L788.0,488.7 L788.7,489.2 L789.5,489.5 L790.2,489.7 L791.0,489.9 L791.7,489.9 L792.5,489.9 L793.2,489.9 L794.0,489.9 L794.7,489.9 L795.5,490.1 L796.2,490.2 L797.0,490.4 L797.7,490.8 L798.5,491.4 L799.2,492.5 L800.0,493.6 L800.7,494.8 L801.5,496.0 L802.2,497.3 L803.0,498.5 L803.7,499.5 L804.5,500.7 L805.2,502.2 L806.0,503.0 L806.7,503.3 L807.5,503.5 L808.2,503.4 L809.0,503.2 L809.7,502.5 L810.5,501.7 L811.2,500.2 L812.0,498.5 L812.7,496.7 L813.5,494.8 L814.2,492.8 L815.0,490.6 L815.7,488.4 L816.5,486.3 L817.2,484.4 L818.0,482.6 L818.7,480.9 L819.5,479.6 L820.2,478.4 L821.0,477.3 L821.7,476.7 L822.5,476.2 L823.2,476.4 L824.0,477.0 L824.7,477.4 L825.5,477.8 L826.2,478.6 L827.0,479.9 L827.7,481.4 L828.5,482.7 L829.2,484.0 L830.0,485.3 L830.7,486.4 L831.5,487.2 L832.2,487.9 L833.0,488.5 L833.7,489.0 L834.5,489.4 L835.2,489.7 L836.0,489.8 L836.7,489.9 L837.5,489.9 L838.2,489.9 L839.0,489.9 L839.7,489.9 L840.5,490.0 L841.2,490.1 L842.0,490.3 L842.4,490.4" fill="none" stroke="#c9a535" stroke-width="1.25" stroke-linejoin="round"/>
</g>
<rect x="72.2" y="519.0" width="1" height="30.5" fill="#000" fill-opacity="0.14"/>
<rect x="162.9" y="519.0" width="1" height="30.5" fill="#000" fill-opacity="0.14"/>
<rect x="253.5" y="519.0" width="1" height="30.5" fill="#000" fill-opacity="0.14"/>
<rect x="344.2" y="519.0" width="1" height="30.5" fill="#000" fill-opacity="0.14"/>
<rect x="434.8" y="519.0" width="1" height="30.5" fill="#000" fill-opacity="0.14"/>
<rect x="480.2" y="519.0" width="1" height="30.5" fill="#000" fill-opacity="0.14"/>
<rect x="570.8" y="519.0" width="1" height="30.5" fill="#000" fill-opacity="0.14"/>
<rect x="661.5" y="519.0" width="1" height="30.5" fill="#000" fill-opacity="0.14"/>
<rect x="752.2" y="519.0" width="1" height="30.5" fill="#000" fill-opacity="0.14"/>
<rect x="208.2" y="459.0" width="1" height="60.0" fill="#000" fill-opacity="0.13"/>
<rect x="525.5" y="459.0" width="1" height="60.0" fill="#000" fill-opacity="0.13"/>
<rect x="842.8" y="459.0" width="1" height="60.0" fill="#000" fill-opacity="0.13"/>
<rect x="72.0" y="518.5" width="773.0" height="1" fill="#000" fill-opacity="0.1"/>
<rect x="72.0" y="459.0" width="332.0" height="90.5" fill="#000" fill-opacity="0.1"/>
<rect x="669.0" y="459.0" width="176.0" height="90.5" fill="#000" fill-opacity="0.1"/>
<g clip-path="url(#cl)">
<rect x="72.0" y="459.0" width="332.0" height="59.5" fill="#e7e7e7"/>
<path d="M83.4,519.0 L84.5,500.0 L88.0,480.0 L93.7,465.0 L100.0,464.5 L110.0,468.0 L120.0,472.0 L145.0,471.0 L170.0,472.5 L190.0,473.0 L215.0,472.0 L240.5,472.0 L241.0,483.7 L242.0,483.9 L243.0,484.4 L244.0,485.0 L245.0,485.6 L246.0,486.2 L247.0,486.5 L248.0,486.6 L249.0,486.6 L250.0,486.3 L251.0,485.9 L252.0,485.8 L253.0,485.9 L254.0,486.8 L255.0,488.1 L256.0,489.4 L257.0,490.3 L258.0,491.4 L259.0,492.9 L260.0,494.6 L261.0,496.5 L262.0,498.5 L263.0,499.6 L264.0,499.8 L265.0,499.1 L266.0,497.3 L267.0,495.2 L268.0,492.4 L269.0,489.0 L270.0,485.4 L271.0,482.8 L272.0,480.4 L273.0,478.4 L274.0,476.7 L275.0,475.2 L276.0,474.2 L277.0,473.2 L278.0,472.5 L279.0,471.6 L280.0,472.5 L281.0,472.9 L282.0,473.8 L283.0,475.3 L284.0,478.0 L285.0,481.4 L286.0,483.4 L287.0,483.9 L288.0,484.2 L289.0,484.8 L290.0,485.4 L291.0,486.0 L292.0,486.4 L293.0,486.5 L294.0,486.6 L295.0,486.4 L296.0,486.1 L297.0,485.8 L298.0,485.9 L299.0,486.4 L300.0,487.7 L301.0,489.0 L302.0,490.1 L303.0,491.0 L304.0,492.4 L305.0,494.0 L306.0,495.8 L307.0,497.9 L308.0,499.2 L309.0,499.8 L310.0,499.4 L311.0,497.9 L312.0,495.9 L313.0,493.4 L314.0,490.2 L315.0,486.6 L316.0,483.7 L317.0,481.0 L318.0,479.0 L319.0,477.2 L320.0,475.7 L321.0,474.5 L322.0,473.5 L323.0,472.7 L324.0,471.9 L325.0,472.1 L326.0,472.8 L327.0,473.4 L328.0,474.8 L329.0,477.1 L330.0,480.2 L331.0,482.8 L332.0,483.8 L333.0,484.0 L334.0,484.6 L335.0,485.2 L336.0,485.8 L337.0,486.4 L338.0,486.5 L339.0,486.6 L340.0,486.5 L341.0,486.2 L342.0,485.8 L343.0,485.9 L344.0,486.0 L345.0,487.3 L346.0,488.6 L347.0,489.8 L348.0,490.6 L349.0,491.9 L350.0,493.5 L351.0,495.2 L352.0,497.2 L353.0,498.9 L354.0,499.7 L355.0,499.6 L356.0,498.5 L357.0,496.7 L358.0,494.4 L359.0,491.2 L360.0,487.8 L361.0,484.5 L362.0,481.9 L363.0,479.7 L364.0,477.7 L365.0,476.2 L366.0,474.9 L367.0,473.8 L368.0,473.0 L369.0,472.2 L370.0,471.7 L371.0,472.7 L372.0,473.1 L373.0,474.2 L374.0,476.1 L375.0,479.1 L376.0,482.3 L377.0,483.7 L378.0,483.9 L379.0,484.4 L380.0,485.0 L381.0,485.6 L382.0,486.2 L383.0,486.5 L384.0,486.6 L385.0,486.6 L386.0,486.3 L387.0,485.9 L388.0,485.8 L389.0,485.9 L390.0,486.9 L391.0,488.2 L392.0,489.4 L393.0,490.4 L394.0,491.5 L395.0,492.9 L396.0,494.6 L397.0,496.5 L398.0,498.5 L399.0,499.6 L400.0,495.4 L401.0,493.9 L402.0,492.3 L403.0,490.8 L404.0,488.5 L405.0,485.0 L406.0,482.8 L407.0,480.7 L408.0,479.2 L409.0,477.8 L410.0,476.5 L411.0,475.2 L412.0,474.0 L413.0,473.4 L414.0,473.3 L415.0,473.2 L416.0,472.9 L417.0,472.6 L418.0,473.4 L419.0,475.5 L420.0,477.5 L421.0,479.5 L422.0,481.6 L423.0,483.4 L424.0,484.3 L425.0,485.1 L426.0,485.7 L427.0,486.3 L428.0,486.7 L429.0,486.7 L430.0,486.7 L431.0,486.7 L432.0,486.7 L433.0,486.6 L434.0,486.6 L435.0,486.6 L436.0,487.1 L437.0,487.9 L438.0,490.1 L439.0,491.0 L440.0,492.4 L441.0,494.0 L442.0,495.8 L443.0,497.9 L444.0,499.2 L445.0,499.8 L446.0,499.4 L447.0,497.9 L448.0,495.9 L449.0,493.4 L450.0,490.1 L451.0,486.5 L452.0,483.6 L453.0,481.0 L454.0,479.0 L455.0,477.2 L456.0,475.7 L457.0,474.5 L458.0,473.4 L459.0,472.8 L460.0,472.6 L461.0,472.6 L462.0,472.6 L463.0,472.7 L464.0,474.8 L465.0,477.1 L466.0,480.3 L467.0,482.8 L468.0,483.8 L469.0,484.0 L470.0,484.6 L471.0,485.2 L472.0,485.8 L473.0,486.4 L474.0,486.5 L475.0,486.6 L476.0,486.5 L477.0,486.2 L478.0,485.8 L479.0,485.9 L480.0,486.0 L481.0,487.3 L482.0,488.6 L483.0,489.8 L484.0,490.7 L485.0,492.0 L486.0,493.5 L487.0,495.2 L488.0,497.2 L489.0,498.9 L490.0,499.7 L491.0,499.6 L492.0,498.5 L493.0,496.6 L494.0,494.4 L495.0,491.2 L496.0,487.7 L497.0,484.5 L498.0,481.9 L499.0,479.7 L500.0,477.7 L501.0,476.2 L502.0,474.8 L503.0,473.8 L504.0,473.0 L505.0,472.2 L506.0,471.7 L507.0,472.7 L508.0,473.1 L509.0,474.2 L510.0,476.2 L511.0,479.1 L512.0,482.3 L513.0,483.7 L514.0,483.9 L515.0,484.4 L516.0,485.0 L517.0,485.6 L518.0,486.3 L519.0,486.5 L520.0,486.6 L521.0,486.6 L522.0,486.3 L523.0,485.9 L524.0,485.8 L525.0,485.9 L525.0,494.2 L524.0,493.8 L523.0,493.5 L522.0,493.4 L521.0,493.3 L520.0,493.2 L519.0,493.1 L518.0,492.9 L517.0,492.6 L516.0,492.1 L515.0,491.2 L514.0,489.9 L513.0,488.4 L512.0,487.3 L511.0,485.8 L510.0,484.4 L509.0,483.4 L508.0,482.6 L507.0,481.7 L506.0,480.6 L505.0,480.3 L504.0,481.0 L503.0,482.4 L502.0,484.0 L501.0,486.4 L500.0,488.8 L499.0,491.4 L498.0,494.5 L497.0,498.2 L496.0,501.5 L495.0,503.8 L494.0,505.1 L493.0,506.1 L492.0,506.8 L491.0,506.9 L490.0,506.8 L489.0,506.5 L488.0,506.0 L487.0,505.3 L486.0,504.3 L485.0,502.6 L484.0,500.9 L483.0,499.3 L482.0,497.6 L481.0,496.0 L480.0,494.7 L479.0,493.9 L478.0,493.6 L477.0,493.5 L476.0,493.3 L475.0,493.2 L474.0,493.1 L473.0,493.0 L472.0,492.7 L471.0,492.3 L470.0,491.5 L469.0,490.5 L468.0,488.8 L467.0,487.7 L466.0,486.3 L465.0,484.8 L464.0,483.7 L463.0,482.9 L462.0,482.1 L461.0,480.9 L460.0,480.0 L459.0,481.9 L458.0,484.3 L457.0,486.7 L456.0,489.2 L455.0,491.6 L454.0,494.8 L453.0,497.9 L452.0,500.5 L451.0,502.8 L450.0,504.6 L449.0,505.7 L448.0,506.6 L447.0,506.9 L446.0,507.2 L445.0,507.1 L444.0,506.9 L443.0,506.7 L442.0,506.1 L441.0,505.4 L440.0,504.0 L439.0,502.6 L438.0,500.7 L437.0,498.8 L436.0,497.4 L435.0,496.2 L434.0,495.2 L433.0,494.9 L432.0,494.5 L431.0,494.2 L430.0,493.9 L429.0,493.6 L428.0,493.2 L427.0,492.9 L426.0,492.5 L425.0,492.0 L424.0,491.5 L423.0,490.5 L422.0,489.2 L421.0,487.9 L420.0,486.7 L419.0,485.2 L418.0,483.8 L417.0,482.9 L416.0,482.1 L415.0,481.1 L414.0,481.2 L413.0,482.3 L412.0,484.0 L411.0,486.2 L410.0,488.3 L409.0,491.2 L408.0,494.1 L407.0,497.5 L406.0,500.6 L405.0,503.5 L404.0,505.2 L403.0,506.2 L402.0,506.7 L401.0,507.1 L400.0,507.5 L399.0,506.7 L398.0,506.4 L397.0,505.8 L396.0,504.9 L395.0,503.8 L394.0,502.0 L393.0,500.4 L392.0,498.8 L391.0,497.0 L390.0,495.5 L389.0,494.2 L388.0,493.8 L387.0,493.5 L386.0,493.4 L385.0,493.3 L384.0,493.2 L383.0,493.1 L382.0,492.9 L381.0,492.6 L380.0,492.1 L379.0,491.2 L378.0,489.9 L377.0,488.4 L376.0,487.3 L375.0,485.8 L374.0,484.4 L373.0,483.3 L372.0,482.6 L371.0,481.7 L370.0,480.6 L369.0,480.3 L368.0,481.1 L367.0,482.4 L366.0,484.1 L365.0,486.4 L364.0,488.8 L363.0,491.4 L362.0,494.5 L361.0,498.3 L360.0,501.5 L359.0,503.8 L358.0,505.1 L357.0,506.1 L356.0,506.8 L355.0,506.9 L354.0,506.8 L353.0,506.5 L352.0,506.0 L351.0,505.2 L350.0,504.2 L349.0,502.6 L348.0,500.9 L347.0,499.3 L346.0,497.6 L345.0,496.0 L344.0,494.6 L343.0,493.9 L342.0,493.6 L341.0,493.5 L340.0,493.3 L339.0,493.2 L338.0,493.1 L337.0,493.0 L336.0,492.7 L335.0,492.3 L334.0,491.5 L333.0,490.4 L332.0,488.8 L331.0,487.7 L330.0,486.3 L329.0,484.7 L328.0,483.7 L327.0,482.9 L326.0,482.1 L325.0,480.9 L324.0,480.0 L323.0,480.8 L322.0,481.9 L321.0,483.5 L320.0,485.6 L319.0,488.0 L318.0,490.6 L317.0,493.4 L316.0,496.8 L315.0,500.8 L314.0,503.1 L313.0,504.7 L312.0,505.9 L311.0,506.6 L310.0,506.9 L309.0,506.9 L308.0,506.6 L307.0,506.2 L306.0,505.6 L305.0,504.6 L304.0,503.2 L303.0,501.4 L302.0,499.8 L301.0,498.2 L300.0,496.5 L299.0,495.1 L298.0,494.1 L297.0,493.6 L296.0,493.5 L295.0,493.4 L294.0,493.3 L293.0,493.2 L292.0,493.1 L291.0,492.8 L290.0,492.4 L289.0,491.8 L288.0,490.9 L287.0,489.3 L286.0,488.0 L285.0,486.8 L284.0,485.2 L283.0,484.0 L282.0,483.1 L281.0,482.4 L280.0,481.3 L279.0,480.3 L278.0,480.5 L277.0,481.4 L276.0,483.0 L275.0,484.9 L274.0,487.2 L273.0,489.7 L272.0,492.4 L271.0,495.7 L270.0,499.8 L269.0,502.3 L268.0,504.3 L267.0,505.6 L266.0,506.4 L265.0,506.9 L264.0,506.9 L263.0,506.7 L262.0,506.4 L261.0,505.8 L260.0,504.9 L259.0,503.8 L258.0,502.0 L257.0,500.4 L256.0,498.8 L255.0,497.0 L254.0,495.5 L253.0,494.2 L252.0,493.8 L251.0,493.5 L250.0,493.4 L249.0,493.3 L248.0,493.2 L247.0,493.1 L246.0,492.9 L245.0,492.6 L244.0,492.1 L243.0,491.2 L242.0,489.9 L241.0,488.4 L239.5,497.0 L238.5,500.0 L200.0,502.0 L160.0,505.0 L130.0,507.0 L110.0,505.0 L95.0,509.5 L88.0,508.0 L86.0,512.0 L84.5,519.0Z" fill="#d3d3d3"/>
<rect x="208.2" y="459.0" width="1" height="60.0" fill="#000" fill-opacity="0.13"/>
<path d="M83.4,502.4 L89.1,488.0 L94.9,475.7 L99.5,478.7 L104.1,486.8 L109.8,491.0 L112.1,489.5 L117.9,493.7 L125.9,503.3 L128.2,504.0 L134.0,489.0 L142.0,476.4 L145.5,479.9 L151.2,487.2 L154.7,490.2 L159.3,488.6 L163.9,493.7 L171.9,504.0 L177.6,496.0 L182.2,484.5 L188.0,476.4 L192.6,479.9 L198.3,486.8 L202.9,490.2 L207.5,491.4 L215.6,502.9 L217.9,504.0 L223.6,496.0 L228.2,483.3 L232.8,475.7 L237.4,479.9 L243.2,487.9 L248.9,489.5 L252.4,489.1 L258.1,496.0 L262.7,502.4 L264.0,501.7 L264.7,501.9 L265.4,502.0 L266.1,502.0 L266.8,501.4 L267.5,500.4 L268.2,499.1 L268.8,497.9 L269.5,496.6 L270.2,494.8 L270.9,492.7 L271.6,490.2 L272.3,487.5 L273.0,485.1 L273.6,482.9 L274.3,481.0 L275.0,479.4 L275.7,478.3 L276.4,477.7 L277.1,477.5 L277.8,477.4 L278.5,477.4 L279.1,477.5 L279.8,477.7 L280.5,478.1 L281.2,478.6 L281.9,478.9 L282.6,479.6 L283.3,480.7 L284.0,482.2 L284.6,483.9 L285.3,485.3 L286.0,486.5 L286.7,487.4 L287.4,487.8 L288.1,488.1 L288.8,488.5 L289.4,488.8 L290.1,489.4 L290.8,489.8 L291.5,490.4 L292.2,490.8 L292.9,490.9 L293.6,490.7 L294.3,490.5 L294.9,490.6 L295.6,490.9 L296.3,490.9 L297.0,490.6 L297.7,490.2 L298.4,489.8 L299.1,490.0 L299.7,490.8 L300.4,492.1 L301.1,493.5 L301.8,494.6 L302.5,495.7 L303.2,496.9 L303.9,498.5 L304.6,499.9 L305.2,501.0 L305.9,501.8 L306.6,502.5 L307.3,502.8 L308.0,502.9 L308.7,502.6 L309.4,502.5 L310.1,502.6 L310.7,502.7 L311.4,502.4 L312.1,501.5 L312.8,500.4 L313.5,499.0 L314.2,497.4 L314.9,495.8 L315.5,494.1 L316.2,492.1 L316.9,489.8 L317.6,487.4 L318.3,485.0 L319.0,483.0 L319.7,481.2 L320.4,479.8 L321.0,478.6 L321.7,477.6 L322.4,476.7 L323.1,476.0 L323.8,475.6 L324.5,475.9 L325.2,476.4 L325.8,477.1 L326.5,477.6 L327.2,478.2 L327.9,479.3 L328.6,480.7 L329.3,482.2 L330.0,483.6 L330.7,484.9 L331.3,486.1 L332.0,487.1 L332.7,487.7 L333.4,488.2 L334.1,488.5 L334.8,488.5 L335.5,488.6 L336.1,488.6 L336.8,488.6 L337.5,488.5 L338.2,488.5 L338.9,488.7 L339.6,488.9 L340.3,489.1 L341.0,489.2 L341.6,489.6 L342.3,490.0 L343.0,490.3 L343.7,490.5 L344.4,490.8 L345.1,491.4 L345.8,492.3 L346.5,493.5 L347.1,494.5 L347.8,495.5 L348.5,496.4 L349.2,497.2 L349.9,498.2 L350.6,499.1 L351.3,500.3 L351.9,501.5 L352.6,502.6 L353.3,503.3 L354.0,503.6 L354.7,503.8 L355.4,504.0 L356.1,503.8 L356.8,503.0 L357.4,501.9 L358.1,500.4 L358.8,498.7 L359.5,496.9 L360.2,495.2 L360.9,493.3 L361.6,491.4 L362.2,489.4 L362.9,487.4 L363.6,485.5 L364.3,484.0 L365.0,482.8 L365.7,481.7 L366.4,480.8 L367.1,479.9 L367.7,479.2 L368.4,478.3 L369.1,477.6 L369.8,477.4 L370.5,477.8 L371.2,478.5 L371.9,479.1 L372.6,479.3 L373.2,479.6 L373.9,480.1 L374.6,480.9 L375.3,481.9 L376.0,482.9 L376.7,483.7 L377.4,484.5 L378.0,485.4 L378.7,486.5 L379.4,487.7 L380.1,488.9 L380.8,489.6 L381.5,489.9 L382.2,490.1 L382.9,490.1 L383.5,490.3 L384.2,490.1 L384.9,490.1 L385.6,490.2 L386.3,490.6 L387.0,490.9 L387.7,491.0 L388.3,491.1 L389.0,491.3 L389.7,491.7 L390.4,492.1 L391.1,493.0 L391.8,494.2 L392.5,495.6 L393.2,496.5 L393.8,497.3 L394.5,497.9 L395.2,498.7 L395.9,499.7 L396.6,500.6 L397.3,501.4 L398.0,501.9 L398.6,502.3 L399.3,502.6 L400.0,502.7 L400.7,502.5 L401.4,501.9 L402.1,501.3 L402.8,500.6 L403.5,499.5 L404.1,498.2 L404.8,496.8 L405.5,495.1 L406.2,493.4 L406.9,491.3 L407.6,489.0 L408.3,487.1 L409.0,485.2 L409.6,483.7 L410.3,482.1 L411.0,481.0 L411.7,480.0 L412.4,478.5 L413.1,477.1 L413.8,475.9 L414.4,475.5 L415.1,475.7 L415.8,476.2 L416.5,477.0 L417.2,477.9 L417.9,478.9 L418.6,480.1 L419.3,481.0 L419.9,482.3 L420.6,483.4 L421.3,484.2 L422.0,484.9 L422.7,485.6 L423.4,486.6 L424.1,487.5 L424.7,488.1 L425.4,488.2 L426.1,488.1 L426.8,488.0 L427.5,487.9 L428.2,488.0 L428.9,488.0 L429.6,488.1 L430.2,488.1 L430.9,488.1 L431.6,488.2 L432.3,488.2 L433.0,488.3 L433.7,488.3 L434.4,488.9 L435.1,489.9 L435.7,491.5 L436.4,493.2 L437.1,494.8 L437.8,495.8 L438.5,496.3 L439.2,497.3 L439.9,498.1 L440.5,499.3 L441.2,499.8 L441.9,500.5 L442.6,501.4 L443.3,502.4 L444.0,503.2 L444.7,503.5 L445.4,503.7 L446.0,503.5 L446.7,502.9 L447.4,501.7 L448.1,500.2 L448.8,498.5 L449.5,497.1 L450.2,495.6 L450.8,494.0 L451.5,492.3 L452.2,490.6 L452.9,489.1 L453.6,487.6 L454.3,486.0 L455.0,484.2 L455.7,482.3 L456.3,480.8 L457.0,479.5 L457.7,478.3 L458.4,477.2 L459.1,476.2 L459.8,475.5 L460.5,475.8 L461.1,476.4 L461.8,477.0 L462.5,478.0 L463.2,478.7 L463.9,479.7 L464.6,480.6 L465.3,481.6 L466.0,483.1 L466.6,484.6 L467.3,486.0 L468.0,486.8 L468.7,487.2 L469.4,487.8 L470.1,488.5 L470.8,489.0 L471.5,489.3 L472.1,489.6 L472.8,489.5 L473.5,489.9 L474.2,490.0 L474.9,489.9 L475.6,489.8 L476.3,489.4 L476.9,489.6 L477.6,489.9 L478.3,490.2 L479.0,490.5 L479.7,490.6 L480.4,491.2 L481.1,492.0 L481.8,492.5 L482.4,493.2 L483.1,494.1 L483.8,495.4 L484.5,497.2 L485.2,498.6 L485.9,499.9 L486.6,501.0 L487.2,501.8 L487.9,502.5 L488.6,502.9 L489.3,503.0 L490.0,503.2 L490.7,503.3 L491.4,503.0 L492.1,502.2 L492.7,500.8 L493.4,499.6 L494.1,498.5 L494.8,497.4 L495.5,496.0 L496.2,494.3 L496.9,492.5 L497.6,490.6 L498.2,488.7 L498.9,486.9 L499.6,485.3 L500.3,483.6 L501.0,481.9 L501.7,480.4 L502.4,479.3 L503.0,478.4 L503.7,477.7 L504.4,476.9 L505.1,476.8 L505.8,477.2 L506.5,477.7 L507.2,478.2 L507.9,478.4 L508.5,478.9 L509.2,479.8 L509.9,481.0 L510.6,482.4 L511.3,483.8 L512.0,484.9 L512.7,486.1 L513.3,487.1 L514.0,488.0 L514.7,488.7 L515.4,488.8 L516.1,489.1 L516.8,489.5 L517.5,489.8 L518.2,490.0 L518.8,489.7 L519.5,489.3 L520.2,489.5 L520.9,490.1 L521.6,490.6 L522.3,490.6 L523.0,490.2 L523.7,490.2 L524.3,490.7 L525.0,491.4" fill="none" stroke="#979797" stroke-width="1" stroke-linejoin="round"/>
</g>
<rect x="125.3" y="519.5" width="1.2" height="30.0" fill="#c5d2e0"/>
<rect x="263.4" y="519.5" width="1.2" height="30.0" fill="#c5d2e0"/>
<rect x="283.9" y="519.5" width="2.6" height="30.0" fill="#b98080"/>
<rect x="287.8" y="519.5" width="3.6" height="30.0" fill="#bcc6d4"/>
<rect x="290.9" y="519.5" width="1.5" height="30.0" fill="#8c9db7"/>
<rect x="320.0" y="519.5" width="2.0" height="30.0" fill="#8c9db7"/>
<rect x="331.6" y="519.5" width="1.5" height="30.0" fill="#c2d1e2"/>
<rect x="371.2" y="519.5" width="1.5" height="30.0" fill="#c2d1e2"/>
<rect x="382.9" y="519.5" width="1.5" height="30.0" fill="#c2d1e2"/>
<rect x="393.9" y="519.5" width="1.5" height="30.0" fill="#c8d6e6"/>
<rect x="414.6" y="519.5" width="2.0" height="30.0" fill="#d2e6f7"/>
<rect x="426.7" y="519.5" width="5.2" height="30.0" fill="#d2e6f7"/>
<rect x="460.2" y="519.5" width="2.0" height="30.0" fill="#d2e6f7"/>
<rect x="522.7" y="519.5" width="2.0" height="30.0" fill="#8bbff5"/>
<rect x="71.5" y="459.0" width="1" height="90.5" fill="#000" fill-opacity="0.08"/>
<rect x="72.0" y="549.0" width="773.0" height="1" fill="#000" fill-opacity="0.08"/>
<text x="208.7" y="515" font-size="10" text-anchor="middle" fill="#222" letter-spacing="0.06">2017-03-26 00:00</text>
<text x="526.5" y="515" font-size="10" text-anchor="middle" fill="#222" letter-spacing="0.06">2017-04-02 00:00</text>
<text x="844.5" y="515" font-size="10" text-anchor="middle" fill="#222" letter-spacing="0.06">2017-04-09 00:00</text>
<path d="M404.0,458.5 L72,458.5 L72,100 L845,100 L845,458.5 L669.0,458.5" fill="none" stroke="#666666" stroke-width="2"/>
<path d="M404.0,457.5 L404.0,550 L669.0,550 L669.0,457.5" fill="none" stroke="#666666" stroke-width="2"/>
<path d="M403,470.5 L397.5,470.5 Q394.5,470.5 394.5,473.5 L394.5,536 Q394.5,539 397.5,539 L403,539 Z" fill="#cfcfcf" stroke="#6a6a6a" stroke-width="1"/>
<path d="M670,470.5 L675.5,470.5 Q678.5,470.5 678.5,473.5 L678.5,536 Q678.5,539 675.5,539 L670,539 Z" fill="#cfcfcf" stroke="#6a6a6a" stroke-width="1"/>
<path d="M400.8,503 L400.8,510 L397,506.5 Z" fill="#4a4a4a"/>
<path d="M672,503 L672,510 L675.8,506.5 Z" fill="#4a4a4a"/>
</svg>
</body></html>
